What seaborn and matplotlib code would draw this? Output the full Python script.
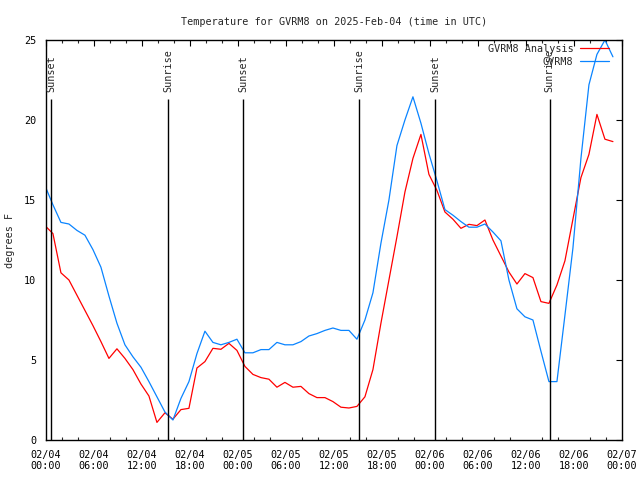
import numpy as np
import pandas as pd
import matplotlib
matplotlib.use('Agg')
import matplotlib.pyplot as plt
import matplotlib.dates as mdates
import seaborn as sns

# hourly observations, taken at hh:52 UTC
obs_times = pd.date_range('2025-02-03 23:52', periods=72, freq='h')

# GVRM8 analysis (red)
analysis = [13.4, 12.9, 10.45, 10.0, 9.05, 8.1, 7.15, 6.15, 5.1, 5.7, 5.1, 4.4,
            3.5, 2.75, 1.1, 1.7, 1.3, 1.9, 1.98, 4.5, 4.9, 5.73, 5.67, 6.04,
            5.6, 4.6, 4.1, 3.9, 3.8, 3.3, 3.6, 3.3, 3.35, 2.9, 2.65, 2.65,
            2.4, 2.05, 2.0, 2.1, 2.7, 4.4, 7.3, 10.0, 12.7, 15.5, 17.6, 19.1,
            16.6, 15.6, 14.25, 13.8, 13.23, 13.48, 13.4, 13.75, 12.5, 11.5, 10.5, 9.75,
            10.4, 10.15, 8.65, 8.54, 9.69, 11.2, 13.8, 16.4, 17.85, 20.35, 18.8, 18.65]

# GVRM8 observed (blue)
observed = [15.9, 14.7, 13.6, 13.5, 13.1, 12.8, 11.9, 10.8, 9.0, 7.3, 5.95, 5.2,
            4.55, 3.65, 2.7, 1.75, 1.25, 2.6, 3.65, 5.4, 6.8, 6.1, 5.95, 6.1,
            6.3, 5.45, 5.45, 5.65, 5.65, 6.1, 5.95, 5.95, 6.15, 6.5, 6.65, 6.85,
            7.0, 6.85, 6.85, 6.3, 7.5, 9.2, 12.3, 15.0, 18.4, 20.0, 21.45, 19.8,
            17.9, 16.2, 14.4, 14.05, 13.65, 13.3, 13.3, 13.5, 13.0, 12.45, 10.0, 8.2,
            7.7, 7.5, 5.55, 3.65, 3.65, 7.8, 12.0, 17.6, 22.2, 24.1, 25.0, 23.95]

sun_times = pd.to_datetime(['2025-02-04 00:38', '2025-02-04 15:15', '2025-02-05 00:38',
                            '2025-02-05 15:08', '2025-02-06 00:38', '2025-02-06 14:58'])
sun_labels = ['Sunset', 'Sunrise', 'Sunset', 'Sunrise', 'Sunset', 'Sunrise']

series_names = ['GVRM8 Analysis', 'GVRM8']
series_colors = ['#ff0000', '#0a84ff']

df = pd.concat([
    pd.DataFrame({'time': obs_times, 'temp': analysis, 'series': series_names[0]}),
    pd.DataFrame({'time': obs_times, 'temp': observed, 'series': series_names[1]}),
])

sns.set_style('white')
plt.rcParams['font.family'] = ['DejaVu Sans Mono']
plt.rcParams['font.size'] = 7.3

fig = plt.figure(figsize=(6.4, 4.8), dpi=100)
ax = fig.add_axes([46 / 640, 40 / 480, 576 / 640, 400 / 480])

sns.lineplot(data=df, x='time', y='temp', hue='series', hue_order=series_names,
             palette=series_colors, linewidth=0.9, ax=ax, legend=False)

ax.vlines(sun_times, 0, 21.3, color='black', lw=1.0)
for t, lab in zip(sun_times, sun_labels):
    ax.text(t, 21.75, lab, rotation=90, ha='center', va='bottom', fontsize=7.3)

ax.set_xlim(pd.Timestamp('2025-02-04 00:00'), pd.Timestamp('2025-02-07 00:00'))
ax.set_ylim(0, 25)
ax.set_yticks([0, 5, 10, 15, 20, 25])
ax.xaxis.set_major_locator(mdates.HourLocator(byhour=range(0, 24, 6)))
ax.xaxis.set_minor_locator(mdates.HourLocator(byhour=range(0, 24, 2)))
ax.xaxis.set_major_formatter(mdates.DateFormatter('%m/%d\n%H:%M'))

ax.tick_params(axis='both', which='major', direction='in', length=4.3, width=0.8,
               top=True, right=True, labelsize=7.3, pad=7, colors='black')
ax.tick_params(axis='x', which='minor', direction='in', length=2.3, width=0.8,
               top=True, bottom=True)
for s in ax.spines.values():
    s.set_color('black')
    s.set_linewidth(1.0)

ax.set_xlabel('')
ax.set_ylabel('degrees F', fontsize=7.3)
ax.yaxis.set_label_coords(-31 / 576, 0.5)
ax.set_title('Temperature for GVRM8 on 2025-Feb-04 (time in UTC)', fontsize=7.3, pad=11)

handles = [plt.Line2D([], [], color=c, lw=0.9) for c in series_colors]
ax.legend(handles, series_names, loc='upper right', bbox_to_anchor=(563 / 576, 0.99),
          frameon=False, markerfirst=False, handlelength=2.9, handletextpad=0.6,
          labelspacing=0.25, borderpad=0, borderaxespad=0, fontsize=7.3)

fig.savefig('out.png', dpi=100)
